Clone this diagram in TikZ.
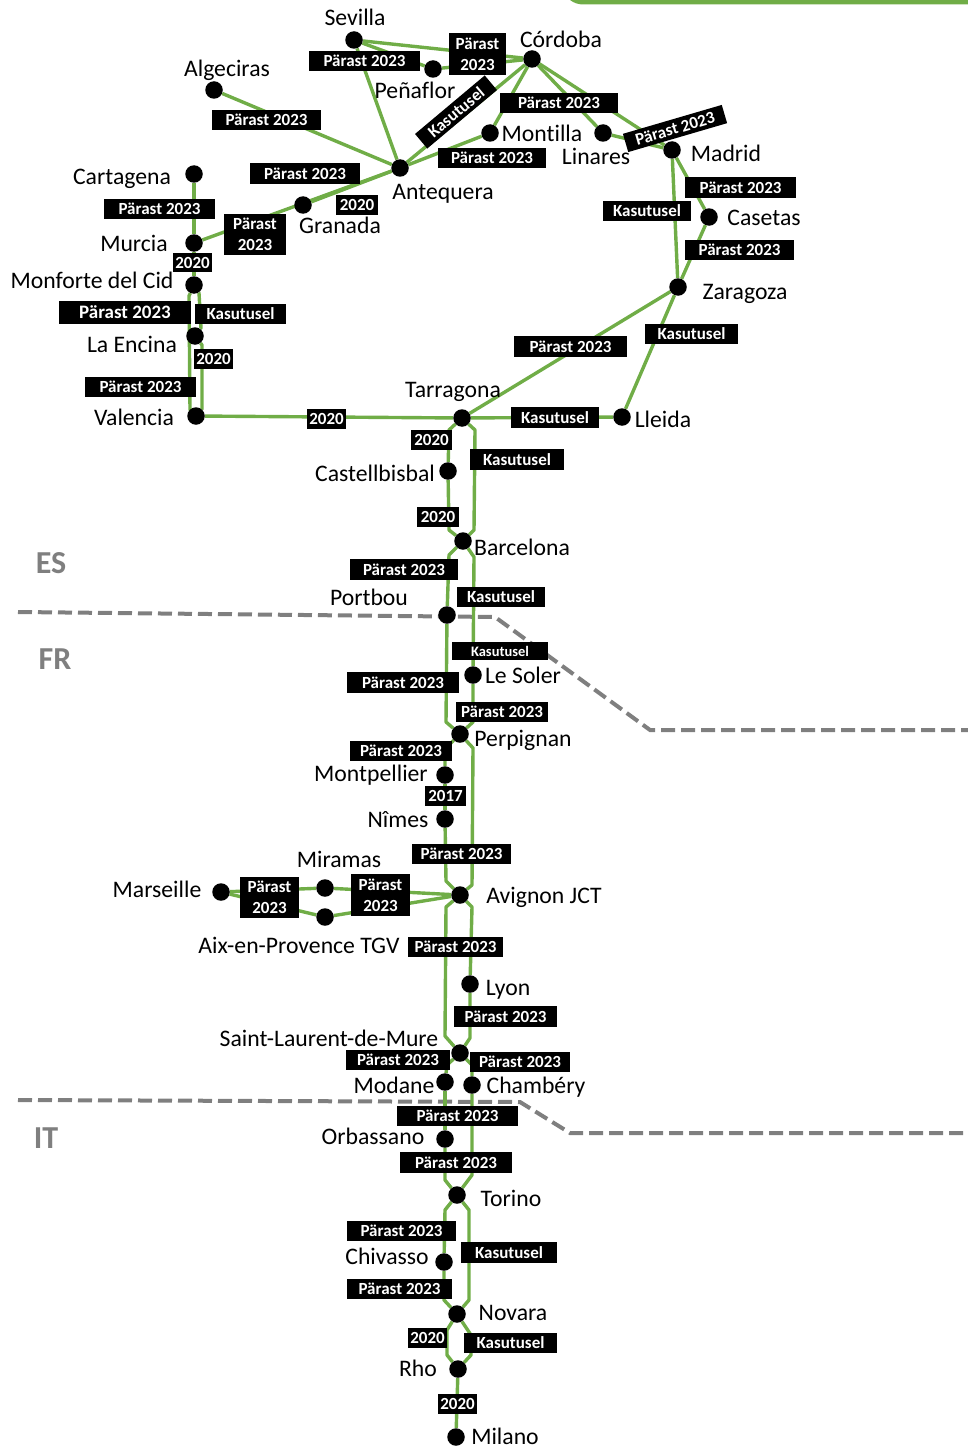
\documentclass[tikz,border=0pt]{standalone}
\usepackage{fontspec}
\setmainfont{Carlito}[Ligatures=CommonOff]
\pgfdeclarelayer{back}
\pgfsetlayers{back,main}
\definecolor{railgreen}{HTML}{70AD47}
\definecolor{bordergray}{HTML}{7F7F7F}
\tikzset{
  stn/.style={circle,fill=black,inner sep=0pt,minimum size=17.5pt},
  rail/.style={draw=railgreen,line width=3.4pt,line join=round},
  border/.style={draw=bordergray,line width=4pt,dash pattern=on 14pt off 6pt},
  lab/.style={fill=black,text=white,inner sep=0pt,align=center,font=\bfseries\fontsize{17}{21}\selectfont},
  city/.style={inner sep=0pt,text=black,yshift=-2pt,font=\fontsize{23.7}{26}\selectfont,text height=16pt,text depth=5pt},
  ctry/.style={inner sep=0pt,text=bordergray,font=\bfseries\fontsize{32}{36}\selectfont}
}
\begin{document}
\begin{tikzpicture}[x=1pt,y=-1pt]
\useasboundingbox (0,0) rectangle (968,1450);
\fill[railgreen] (570,0) .. controls (574,3) and (578,4.5) .. (584,4.5) -- (968,4.5) -- (968,0) -- cycle;
% stations
\node[stn] (sev) at (354,40) {};
\node[stn] (pen) at (433,69) {};
\node[stn] (cor) at (532,59) {};
\node[stn] (alg) at (214,90) {};
\node[stn] (ant) at (400,168) {};
\node[stn] (mon) at (490,133) {};
\node[stn] (lin) at (603,133) {};
\node[stn] (mad) at (672,150) {};
\node[stn] (cas) at (709,217) {};
\node[stn] (zar) at (678,287) {};
\node[stn] (gra) at (303,205) {};
\node[stn] (car) at (194,174) {};
\node[stn] (mur) at (194,243) {};
\node[stn] (mfc) at (194,285) {};
\node[stn] (enc) at (195,336) {};
\node[stn] (val) at (196,416) {};
\node[stn] (tar) at (462,418) {};
\node[stn] (lle) at (622,417) {};
\node[stn] (cbb) at (448,471) {};
\node[stn] (bar) at (463,541) {};
\node[stn] (pbo) at (447,615) {};
\node[stn] (sol) at (473,675) {};
\node[stn] (per) at (460,734) {};
\node[stn] (mtp) at (445,775) {};
\node[stn] (nim) at (445,819) {};
\node[stn] (avi) at (460,895) {};
\node[stn] (mir) at (325,888) {};
\node[stn] (aix) at (325,917) {};
\node[stn] (mar) at (221,892) {};
\node[stn] (lyo) at (470,984) {};
\node[stn] (slm) at (460,1053) {};
\node[stn] (mod) at (445,1082) {};
\node[stn] (cha) at (472,1085) {};
\node[stn] (orb) at (445,1139) {};
\node[stn] (tor) at (457,1195) {};
\node[stn] (chi) at (444,1262) {};
\node[stn] (nov) at (457,1314) {};
\node[stn] (rho) at (458,1369) {};
\node[stn] (mil) at (456,1437) {};
% bends
\coordinate (b1) at (189,296);
\coordinate (b2) at (190,410);
\coordinate (b3) at (199,293);
\coordinate (b4) at (201,328);
\coordinate (b5) at (202,345);
\coordinate (b6) at (202,409);
\coordinate (b7) at (449,430);
\coordinate (b8) at (449,530);
\coordinate (b9) at (475,430);
\coordinate (b10) at (474,530);
\coordinate (b11) at (449,555);
\coordinate (b12) at (474,557);
\coordinate (b13) at (446,722);
\coordinate (b14) at (473,722);
\coordinate (b15) at (445,749);
\coordinate (b16) at (473,748);
\coordinate (b17) at (472,885);
\coordinate (b18) at (446,881);
\coordinate (b19) at (472,907);
\coordinate (b20) at (446,907);
\coordinate (b21) at (445,1036);
\coordinate (b22) at (470,1038);
\coordinate (b23) at (447,1065);
\coordinate (b24) at (472,1065);
\coordinate (b25) at (472,1175);
\coordinate (b26) at (445,1180);
\coordinate (b27) at (445,1210);
\coordinate (b28) at (469,1210);
\coordinate (b29) at (469,1300);
\coordinate (b30) at (444,1300);
\coordinate (b31) at (447,1330);
\coordinate (b32) at (447,1355);
\coordinate (b33) at (471,1335);
\coordinate (b34) at (471,1355);
% border ends
\coordinate (fa) at (18,612);
\coordinate (fb) at (495,617);
\coordinate (fc) at (650,730);
\coordinate (fd) at (968,730);
\coordinate (ia) at (18,1100);
\coordinate (ib) at (520,1102);
\coordinate (ic) at (570,1133);
\coordinate (id) at (968,1133);
\begin{pgfonlayer}{back}
\draw[border] (fa) -- (fb) -- (fc) -- (fd);
\draw[border] (ia) -- (ib) -- (ic) -- (id);
\draw[rail] (sev) -- (cor);
\draw[rail] (sev) -- (pen);
\draw[rail] (pen) -- (cor);
\draw[rail] (sev) -- (ant);
\draw[rail] (alg) -- (ant);
\draw[rail] (cor) -- (ant);
\draw[rail] (cor) -- (mon);
\draw[rail] (mon) -- (ant);
\draw[rail] (cor) -- (lin);
\draw[rail] (cor) -- (mad);
\draw[rail] (lin) -- (mad);
\draw[rail] (mad) -- (zar);
\draw[rail] (mad) -- (cas);
\draw[rail] (cas) -- (zar);
\draw[rail] (ant) -- (gra);
\draw[rail] (ant) -- (mur);
\draw[rail] (car) -- (mur);
\draw[rail] (mur) -- (mfc);
\draw[rail] (mfc) -- (b1) -- (b2) -- (val);
\draw[rail] (mfc) -- (b3) -- (b4) -- (enc);
\draw[rail] (enc) -- (b5) -- (b6) -- (val);
\draw[rail] (val) -- (tar);
\draw[rail] (zar) -- (tar);
\draw[rail] (zar) -- (lle);
\draw[rail] (tar) -- (lle);
\draw[rail] (tar) -- (b7) -- (cbb);
\draw[rail] (cbb) -- (b8) -- (bar);
\draw[rail] (tar) -- (b9) -- (b10) -- (bar);
\draw[rail] (bar) -- (b11) -- (pbo);
\draw[rail] (bar) -- (b12) -- (sol);
\draw[rail] (pbo) -- (b13) -- (per);
\draw[rail] (sol) -- (b14) -- (per);
\draw[rail] (per) -- (b15) -- (mtp);
\draw[rail] (per) -- (b16) -- (b17) -- (avi);
\draw[rail] (mtp) -- (nim);
\draw[rail] (nim) -- (b18) -- (avi);
\draw[rail] (avi) -- (mir);
\draw[rail] (avi) -- (aix);
\draw[rail] (mir) -- (mar);
\draw[rail] (aix) -- (mar);
\draw[rail] (avi) -- (b19) -- (lyo);
\draw[rail] (avi) -- (b20) -- (b21) -- (slm);
\draw[rail] (lyo) -- (b22) -- (slm);
\draw[rail] (slm) -- (b23) -- (mod);
\draw[rail] (slm) -- (b24) -- (cha);
\draw[rail] (mod) -- (orb);
\draw[rail] (cha) -- (b25) -- (tor);
\draw[rail] (orb) -- (b26) -- (tor);
\draw[rail] (tor) -- (b27) -- (chi);
\draw[rail] (tor) -- (b28) -- (b29) -- (nov);
\draw[rail] (chi) -- (b30) -- (nov);
\draw[rail] (nov) -- (b31) -- (b32) -- (rho);
\draw[rail] (nov) -- (b33) -- (b34) -- (rho);
\draw[rail] (rho) -- (mil);
\end{pgfonlayer}
% labels on connectors
\node[lab,minimum width=111pt,minimum height=20pt] (l1) at (364.5,61) {Pärast 2023};
\node[lab,minimum width=57pt,minimum height=42pt] (l2) at (477.5,54) {Pärast\\2023};
\node[lab,minimum width=91pt,minimum height=19pt,rotate=40] (l3) at (456,112) {Kasutusel};
\node[lab,minimum width=118pt,minimum height=20pt] (l4) at (559,103) {Pärast 2023};
\node[lab,minimum width=108pt,minimum height=20pt] (l5) at (492,158) {Pärast 2023};
\node[lab,minimum width=103pt,minimum height=19pt,rotate=16.3] (l6) at (675,128.5) {Pärast 2023};
\node[lab,minimum width=109pt,minimum height=20pt] (l7) at (266.5,120) {Pärast 2023};
\node[lab,minimum width=110pt,minimum height=21pt] (l8) at (305,173.5) {Pärast 2023};
\node[lab,minimum width=42pt,minimum height=20pt] (l9) at (357,205) {2020};
\node[lab,minimum width=62pt,minimum height=41pt] (l10) at (255,234.5) {Pärast\\2023};
\node[lab,minimum width=111pt,minimum height=20pt] (l11) at (159.5,209) {Pärast 2023};
\node[lab,minimum width=39pt,minimum height=19pt] (l12) at (192.5,262.5) {2020};
\node[lab,minimum width=132pt,minimum height=23pt,font=\bfseries\fontsize{19}{21}\selectfont] (l13) at (125,312.5) {Pärast 2023};
\node[lab,minimum width=91pt,minimum height=20pt] (l14) at (240.5,314) {Kasutusel};
\node[lab,minimum width=39pt,minimum height=20pt] (l15) at (213.5,359) {2020};
\node[lab,minimum width=111pt,minimum height=20pt] (l16) at (140.5,387) {Pärast 2023};
\node[lab,minimum width=39pt,minimum height=20pt] (l17) at (326.5,419) {2020};
\node[lab,minimum width=88pt,minimum height=21pt] (l18) at (555,417.5) {Kasutusel};
\node[lab,minimum width=41pt,minimum height=20pt] (l19) at (431.5,440) {2020};
\node[lab,minimum width=94pt,minimum height=21pt] (l20) at (517,459.5) {Kasutusel};
\node[lab,minimum width=42pt,minimum height=20pt] (l21) at (438,517) {2020};
\node[lab,minimum width=108pt,minimum height=21pt] (l22) at (404,569.5) {Pärast 2023};
\node[lab,minimum width=88pt,minimum height=20pt] (l23) at (501,597) {Kasutusel};
\node[lab,minimum width=96pt,minimum height=18pt,font=\bfseries\fontsize{14.5}{16}\selectfont] (l24) at (500,651) {Kasutusel};
\node[lab,minimum width=112pt,minimum height=21pt] (l25) at (403,682.5) {Pärast 2023};
\node[lab,minimum width=92pt,minimum height=20pt] (l26) at (502,712) {Pärast 2023};
\node[lab,minimum width=102pt,minimum height=20pt] (l27) at (401,751) {Pärast 2023};
\node[lab,minimum width=41pt,minimum height=20pt] (l28) at (445.5,796) {2017};
\node[lab,minimum width=99pt,minimum height=20pt] (l29) at (461.5,854) {Pärast 2023};
\node[lab,minimum width=59pt,minimum height=41pt] (l30) at (269.5,897.5) {Pärast\\2023};
\node[lab,minimum width=59pt,minimum height=42pt] (l31) at (380.5,895) {Pärast\\2023};
\node[lab,minimum width=95pt,minimum height=20pt] (l32) at (455.5,947) {Pärast 2023};
\node[lab,minimum width=103pt,minimum height=21pt] (l33) at (505.5,1016.5) {Pärast 2023};
\node[lab,minimum width=104pt,minimum height=20pt] (l34) at (398,1060) {Pärast 2023};
\node[lab,minimum width=100pt,minimum height=20pt] (l35) at (520,1062) {Pärast 2023};
\node[lab,minimum width=121pt,minimum height=20pt] (l36) at (457.5,1116) {Pärast 2023};
\node[lab,minimum width=112pt,minimum height=21pt] (l37) at (456,1162.5) {Pärast 2023};
\node[lab,minimum width=109pt,minimum height=20pt] (l38) at (401.5,1231) {Pärast 2023};
\node[lab,minimum width=96pt,minimum height=21pt] (l39) at (509,1252.5) {Kasutusel};
\node[lab,minimum width=105pt,minimum height=20pt] (l40) at (399.5,1289) {Pärast 2023};
\node[lab,minimum width=39pt,minimum height=20pt] (l41) at (427.5,1338) {2020};
\node[lab,minimum width=93pt,minimum height=20pt] (l42) at (510.5,1343) {Kasutusel};
\node[lab,minimum width=39pt,minimum height=20pt] (l43) at (457.5,1404) {2020};
\node[lab,minimum width=111pt,minimum height=21pt] (l44) at (740.5,187.5) {Pärast 2023};
\node[lab,minimum width=88pt,minimum height=20pt] (l45) at (647,211) {Kasutusel};
\node[lab,minimum width=109pt,minimum height=20pt] (l46) at (739.5,250) {Pärast 2023};
\node[lab,minimum width=93pt,minimum height=20pt] (l47) at (691.5,334) {Kasutusel};
\node[lab,minimum width=113pt,minimum height=21pt] (l48) at (570.5,346.5) {Pärast 2023};
% city names
\node[city] (t1) at (355,18) {Sevilla};
\node[city] (t2) at (561,40) {Córdoba};
\node[city] (t3) at (227,69) {Algeciras};
\node[city] (t4) at (415,91) {Peñaflor};
\node[city] (t5) at (542,134) {Montilla};
\node[city] (t6) at (596,157) {Linares};
\node[city] (t7) at (726,154) {Madrid};
\node[city] (t8) at (764,218) {Casetas};
\node[city] (t9) at (745,292) {Zaragoza};
\node[city] (t10) at (443,192) {Antequera};
\node[city] (t11) at (340,226) {Granada};
\node[city] (t12) at (122,177) {Cartagena};
\node[city] (t13) at (134,244) {Murcia};
\node[city] (t14) at (92,281) {Monforte del Cid};
\node[city] (t15) at (132,345) {La Encina};
\node[city] (t16) at (134,418) {Valencia};
\node[city] (t17) at (453,390) {Tarragona};
\node[city] (t18) at (663,420) {Lleida};
\node[city] (t19) at (375,474) {Castellbisbal};
\node[city] (t20) at (522,548) {Barcelona};
\node[city] (t21) at (369,598) {Portbou};
\node[city] (t22) at (523,676) {Le Soler};
\node[city] (t23) at (523,739) {Perpignan};
\node[city] (t24) at (371,774) {Montpellier};
\node[city] (t25) at (398,820) {Nîmes};
\node[city] (t26) at (339,860) {Miramas};
\node[city] (t27) at (544,896) {Avignon JCT};
\node[city] (t28) at (157,890) {Marseille};
\node[city] (t29) at (299,946) {Aix-en-Provence TGV};
\node[city] (t30) at (508,988) {Lyon};
\node[city] (t31) at (329,1039) {Saint-Laurent-de-Mure};
\node[city] (t32) at (394,1086) {Modane};
\node[city] (t33) at (536,1086) {Chambéry};
\node[city] (t34) at (373,1137) {Orbassano};
\node[city] (t35) at (511,1199) {Torino};
\node[city] (t36) at (387,1257) {Chivasso};
\node[city] (t37) at (513,1313) {Novara};
\node[city] (t38) at (418,1369) {Rho};
\node[city] (t39) at (505,1437) {Milano};
\node[ctry] (es) at (51,563) {ES};
\node[ctry] (fr) at (55,659) {FR};
\node[ctry] (it) at (46,1138) {IT};
\end{tikzpicture}
\end{document}
